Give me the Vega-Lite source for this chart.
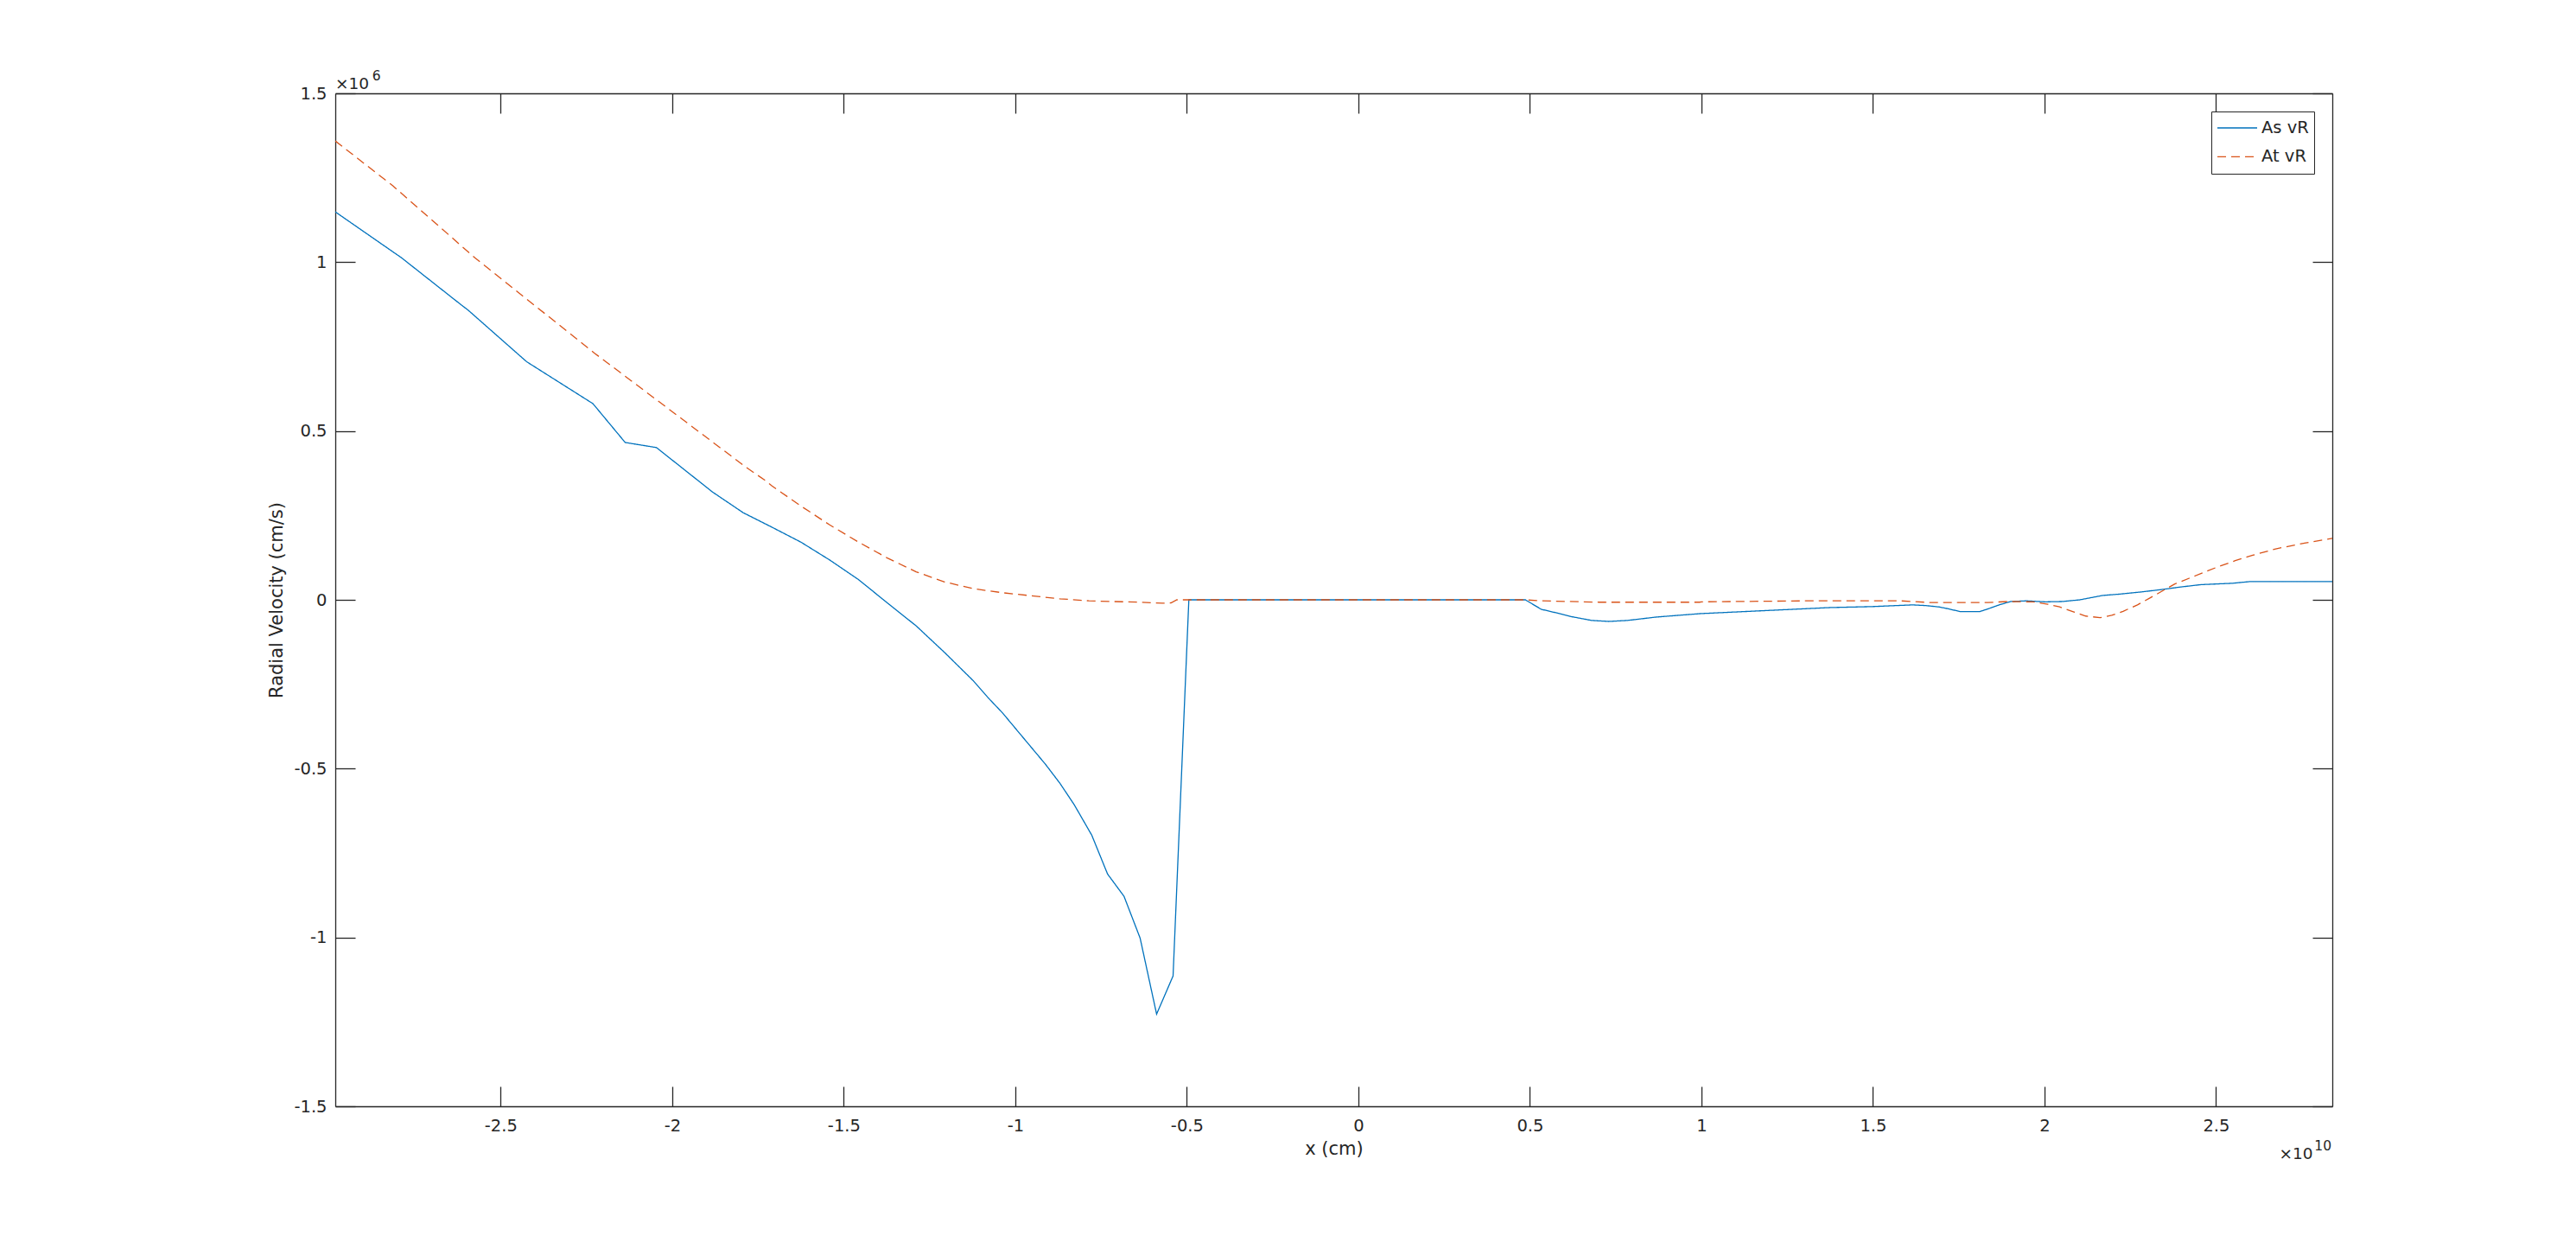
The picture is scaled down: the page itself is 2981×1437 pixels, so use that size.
{
  "$schema": "https://vega.github.io/schema/vega-lite/v6.json",
  "width": 2311,
  "height": 1172,
  "autosize": {"type": "none"},
  "padding": {"left": 388, "top": 108, "right": 282, "bottom": 157},
  "background": "white",
  "config": {
    "view": {"stroke": null},
    "font": "DejaVu Sans",
    "text": {"font": "DejaVu Sans", "fontWeight": "normal"},
    "axis": {
      "grid": false,
      "domainColor": "#262626",
      "domainWidth": 1.3,
      "tickColor": "#262626",
      "tickWidth": 1.3,
      "tickSize": -23,
      "labelColor": "#262626",
      "labelFont": "DejaVu Sans",
      "labelFontSize": 19.5,
      "labelFlush": false,
      "labelOverlap": false,
      "titleFont": "DejaVu Sans",
      "titleFontSize": 21,
      "titleFontWeight": "normal",
      "titleColor": "#262626"
    }
  },
  "layer": [
    {
      "data": {
        "values": [
          {"series": "As vR", "x": -2.982e10, "v": 1.149e6},
          {"series": "As vR", "x": -2.789e10, "v": 1.013e6},
          {"series": "As vR", "x": -2.613e10, "v": 0.872e6},
          {"series": "As vR", "x": -2.596e10, "v": 0.859e6},
          {"series": "As vR", "x": -2.424e10, "v": 0.705e6},
          {"series": "As vR", "x": -2.231e10, "v": 0.581e6},
          {"series": "As vR", "x": -2.137e10, "v": 0.466e6},
          {"series": "As vR", "x": -2.046e10, "v": 0.451e6},
          {"series": "As vR", "x": -1.882e10, "v": 0.319e6},
          {"series": "As vR", "x": -1.793e10, "v": 0.258e6},
          {"series": "As vR", "x": -1.709e10, "v": 0.215e6},
          {"series": "As vR", "x": -1.625e10, "v": 0.171e6},
          {"series": "As vR", "x": -1.541e10, "v": 0.118e6},
          {"series": "As vR", "x": -1.457e10, "v": 0.060e6},
          {"series": "As vR", "x": -1.373e10, "v": -0.009e6},
          {"series": "As vR", "x": -1.289e10, "v": -0.077e6},
          {"series": "As vR", "x": -1.206e10, "v": -0.156e6},
          {"series": "As vR", "x": -1.122e10, "v": -0.240e6},
          {"series": "As vR", "x": -1.080e10, "v": -0.289e6},
          {"series": "As vR", "x": -1.037e10, "v": -0.335e6},
          {"series": "As vR", "x": -0.996e10, "v": -0.385e6},
          {"series": "As vR", "x": -0.954e10, "v": -0.436e6},
          {"series": "As vR", "x": -0.912e10, "v": -0.487e6},
          {"series": "As vR", "x": -0.870e10, "v": -0.543e6},
          {"series": "As vR", "x": -0.828e10, "v": -0.607e6},
          {"series": "As vR", "x": -0.777e10, "v": -0.697e6},
          {"series": "As vR", "x": -0.731e10, "v": -0.812e6},
          {"series": "As vR", "x": -0.683e10, "v": -0.878e6},
          {"series": "As vR", "x": -0.636e10, "v": -1.002e6},
          {"series": "As vR", "x": -0.588e10, "v": -1.227e6},
          {"series": "As vR", "x": -0.540e10, "v": -1.114e6},
          {"series": "As vR", "x": -0.494e10, "v": 0},
          {"series": "As vR", "x": 0.487e10, "v": 0},
          {"series": "As vR", "x": 0.533e10, "v": -0.028e6},
          {"series": "As vR", "x": 0.575e10, "v": -0.038e6},
          {"series": "As vR", "x": 0.617e10, "v": -0.049e6},
          {"series": "As vR", "x": 0.680e10, "v": -0.061e6},
          {"series": "As vR", "x": 0.730e10, "v": -0.064e6},
          {"series": "As vR", "x": 0.785e10, "v": -0.061e6},
          {"series": "As vR", "x": 0.869e10, "v": -0.051e6},
          {"series": "As vR", "x": 0.995e10, "v": -0.041e6},
          {"series": "As vR", "x": 1.121e10, "v": -0.035e6},
          {"series": "As vR", "x": 1.247e10, "v": -0.029e6},
          {"series": "As vR", "x": 1.373e10, "v": -0.023e6},
          {"series": "As vR", "x": 1.499e10, "v": -0.020e6},
          {"series": "As vR", "x": 1.616e10, "v": -0.015e6},
          {"series": "As vR", "x": 1.654e10, "v": -0.017e6},
          {"series": "As vR", "x": 1.692e10, "v": -0.021e6},
          {"series": "As vR", "x": 1.717e10, "v": -0.026e6},
          {"series": "As vR", "x": 1.755e10, "v": -0.035e6},
          {"series": "As vR", "x": 1.811e10, "v": -0.035e6},
          {"series": "As vR", "x": 1.835e10, "v": -0.027e6},
          {"series": "As vR", "x": 1.868e10, "v": -0.015e6},
          {"series": "As vR", "x": 1.901e10, "v": -0.005e6},
          {"series": "As vR", "x": 1.948e10, "v": -0.003e6},
          {"series": "As vR", "x": 2.002e10, "v": -0.006e6},
          {"series": "As vR", "x": 2.052e10, "v": -0.005e6},
          {"series": "As vR", "x": 2.103e10, "v": 0},
          {"series": "As vR", "x": 2.170e10, "v": 0.013e6},
          {"series": "As vR", "x": 2.220e10, "v": 0.017e6},
          {"series": "As vR", "x": 2.279e10, "v": 0.023e6},
          {"series": "As vR", "x": 2.338e10, "v": 0.030e6},
          {"series": "As vR", "x": 2.397e10, "v": 0.038e6},
          {"series": "As vR", "x": 2.456e10, "v": 0.045e6},
          {"series": "As vR", "x": 2.548e10, "v": 0.049e6},
          {"series": "As vR", "x": 2.598e10, "v": 0.054e6},
          {"series": "As vR", "x": 2.839e10, "v": 0.054e6},
          {"series": "At vR", "x": -2.982e10, "v": 1.359e6},
          {"series": "At vR", "x": -2.814e10, "v": 1.226e6},
          {"series": "At vR", "x": -2.575e10, "v": 1.013e6},
          {"series": "At vR", "x": -2.227e10, "v": 0.731e6},
          {"series": "At vR", "x": -1.785e10, "v": 0.393e6},
          {"series": "At vR", "x": -1.731e10, "v": 0.355e6},
          {"series": "At vR", "x": -1.709e10, "v": 0.337e6},
          {"series": "At vR", "x": -1.625e10, "v": 0.278e6},
          {"series": "At vR", "x": -1.541e10, "v": 0.222e6},
          {"series": "At vR", "x": -1.457e10, "v": 0.171e6},
          {"series": "At vR", "x": -1.373e10, "v": 0.124e6},
          {"series": "At vR", "x": -1.289e10, "v": 0.083e6},
          {"series": "At vR", "x": -1.206e10, "v": 0.053e6},
          {"series": "At vR", "x": -1.122e10, "v": 0.033e6},
          {"series": "At vR", "x": -1.037e10, "v": 0.021e6},
          {"series": "At vR", "x": -0.954e10, "v": 0.012e6},
          {"series": "At vR", "x": -0.870e10, "v": 0.003e6},
          {"series": "At vR", "x": -0.785e10, "v": -0.003e6},
          {"series": "At vR", "x": -0.643e10, "v": -0.007e6},
          {"series": "At vR", "x": -0.571e10, "v": -0.010e6},
          {"series": "At vR", "x": -0.546e10, "v": -0.009e6},
          {"series": "At vR", "x": -0.529e10, "v": 0},
          {"series": "At vR", "x": -0.511e10, "v": 0},
          {"series": "At vR", "x": 0.487e10, "v": 0},
          {"series": "At vR", "x": 0.533e10, "v": -0.003e6},
          {"series": "At vR", "x": 0.701e10, "v": -0.007e6},
          {"series": "At vR", "x": 0.995e10, "v": -0.007e6},
          {"series": "At vR", "x": 1.000e10, "v": -0.006e6},
          {"series": "At vR", "x": 1.310e10, "v": -0.003e6},
          {"series": "At vR", "x": 1.580e10, "v": -0.003e6},
          {"series": "At vR", "x": 1.666e10, "v": -0.008e6},
          {"series": "At vR", "x": 1.835e10, "v": -0.008e6},
          {"series": "At vR", "x": 1.893e10, "v": -0.005e6},
          {"series": "At vR", "x": 1.968e10, "v": -0.006e6},
          {"series": "At vR", "x": 2.010e10, "v": -0.013e6},
          {"series": "At vR", "x": 2.044e10, "v": -0.021e6},
          {"series": "At vR", "x": 2.086e10, "v": -0.036e6},
          {"series": "At vR", "x": 2.120e10, "v": -0.048e6},
          {"series": "At vR", "x": 2.162e10, "v": -0.053e6},
          {"series": "At vR", "x": 2.196e10, "v": -0.046e6},
          {"series": "At vR", "x": 2.229e10, "v": -0.034e6},
          {"series": "At vR", "x": 2.271e10, "v": -0.015e6},
          {"series": "At vR", "x": 2.305e10, "v": 0.004e6},
          {"series": "At vR", "x": 2.338e10, "v": 0.023e6},
          {"series": "At vR", "x": 2.380e10, "v": 0.047e6},
          {"series": "At vR", "x": 2.422e10, "v": 0.064e6},
          {"series": "At vR", "x": 2.464e10, "v": 0.081e6},
          {"series": "At vR", "x": 2.506e10, "v": 0.098e6},
          {"series": "At vR", "x": 2.556e10, "v": 0.116e6},
          {"series": "At vR", "x": 2.607e10, "v": 0.132e6},
          {"series": "At vR", "x": 2.674e10, "v": 0.151e6},
          {"series": "At vR", "x": 2.758e10, "v": 0.168e6},
          {"series": "At vR", "x": 2.839e10, "v": 0.182e6}
        ]
      },
      "mark": {"type": "line", "strokeWidth": 1.3, "clip": true},
      "encoding": {
        "x": {
          "field": "x",
          "type": "quantitative",
          "scale": {"domain": [-2.982e10, 2.839e10], "nice": false, "zero": false},
          "axis": {
            "orient": "bottom",
            "values": [-2.5e10, -2e10, -1.5e10, -1e10, -0.5e10, 0, 0.5e10, 1e10, 1.5e10, 2e10, 2.5e10],
            "labelExpr": "(datum.value / 1e10) + ''",
            "labelPadding": 36,
            "labelBaseline": "top",
            "title": "x (cm)",
            "titleX": 1155.5,
            "titleY": 55,
            "titleBaseline": "alphabetic",
            "titleAlign": "center"
          }
        },
        "y": {
          "field": "v",
          "type": "quantitative",
          "scale": {"domain": [-1.5e6, 1.5e6], "nice": false, "zero": false},
          "axis": {
            "orient": "left",
            "values": [-1.5e6, -1e6, -0.5e6, 0, 0.5e6, 1e6, 1.5e6],
            "labelExpr": "(datum.value / 1e6) + ''",
            "labelPadding": 33,
            "labelAlign": "right",
            "labelBaseline": "middle",
            "title": "Radial Velocity (cm/s)",
            "titleX": -62,
            "titleY": 586,
            "titleAngle": -90,
            "titleBaseline": "alphabetic",
            "titleAlign": "center"
          }
        },
        "color": {
          "field": "series",
          "type": "nominal",
          "scale": {"domain": ["As vR", "At vR"], "range": ["#0072BD", "#D95319"]},
          "legend": {
            "orient": "top-right",
            "offset": 21,
            "title": null,
            "strokeColor": "#262626",
            "fillColor": "white",
            "padding": 6,
            "labelFontSize": 19.5,
            "labelColor": "#262626",
            "symbolType": "stroke",
            "symbolSize": 2116,
            "symbolStrokeWidth": 1.3,
            "labelOffset": 4,
            "clipHeight": 26,
            "rowPadding": 7.4
          }
        },
        "strokeDash": {
          "field": "series",
          "type": "nominal",
          "scale": {"domain": ["As vR", "At vR"], "range": [[1, 0], [10, 6]]},
          "legend": {
            "orient": "top-right",
            "offset": 21,
            "title": null,
            "strokeColor": "#262626",
            "fillColor": "white",
            "padding": 6,
            "labelFontSize": 19.5,
            "labelColor": "#262626",
            "symbolType": "stroke",
            "symbolSize": 2116,
            "symbolStrokeWidth": 1.3,
            "labelOffset": 4,
            "clipHeight": 26,
            "rowPadding": 7.4
          }
        }
      }
    },
    {
      "data": {"values": [{"label": "×10"}]},
      "mark": {"type": "text", "align": "left", "baseline": "alphabetic", "dy": -5.5, "fontSize": 18.5, "fontWeight": "normal", "color": "#262626"},
      "encoding": {
        "x": {
          "datum": -2.982e10,
          "type": "quantitative",
          "axis": {
            "orient": "top",
            "values": [-2.5e10, -2e10, -1.5e10, -1e10, -0.5e10, 0, 0.5e10, 1e10, 1.5e10, 2e10, 2.5e10],
            "labels": false,
            "title": null
          }
        },
        "y": {
          "datum": 1.5e6,
          "type": "quantitative",
          "axis": {
            "orient": "right",
            "values": [-1.5e6, -1e6, -0.5e6, 0, 0.5e6, 1e6, 1.5e6],
            "labels": false,
            "title": null
          }
        },
        "text": {"field": "label"}
      }
    },
    {
      "data": {"values": [{"label": "6"}]},
      "mark": {"type": "text", "align": "left", "baseline": "alphabetic", "dx": 42.7, "dy": -15, "fontSize": 15.5, "fontWeight": "normal", "color": "#262626"},
      "encoding": {
        "x": {"datum": -2.982e10, "type": "quantitative", "axis": null},
        "y": {"datum": 1.5e6, "type": "quantitative", "axis": null},
        "text": {"field": "label"}
      }
    },
    {
      "data": {"values": [{"label": "×10"}]},
      "mark": {"type": "text", "align": "right", "baseline": "alphabetic", "dx": -22.5, "dy": 60.7, "fontSize": 18.5, "fontWeight": "normal", "color": "#262626"},
      "encoding": {
        "x": {"datum": 2.839e10, "type": "quantitative", "axis": null},
        "y": {"datum": -1.5e6, "type": "quantitative", "axis": null},
        "text": {"field": "label"}
      }
    },
    {
      "data": {"values": [{"label": "10"}]},
      "mark": {"type": "text", "align": "right", "baseline": "alphabetic", "dx": -1, "dy": 51.3, "fontSize": 15.5, "fontWeight": "normal", "color": "#262626"},
      "encoding": {
        "x": {"datum": 2.839e10, "type": "quantitative", "axis": null},
        "y": {"datum": -1.5e6, "type": "quantitative", "axis": null},
        "text": {"field": "label"}
      }
    }
  ],
  "resolve": {"axis": {"x": "independent", "y": "independent"}}
}
